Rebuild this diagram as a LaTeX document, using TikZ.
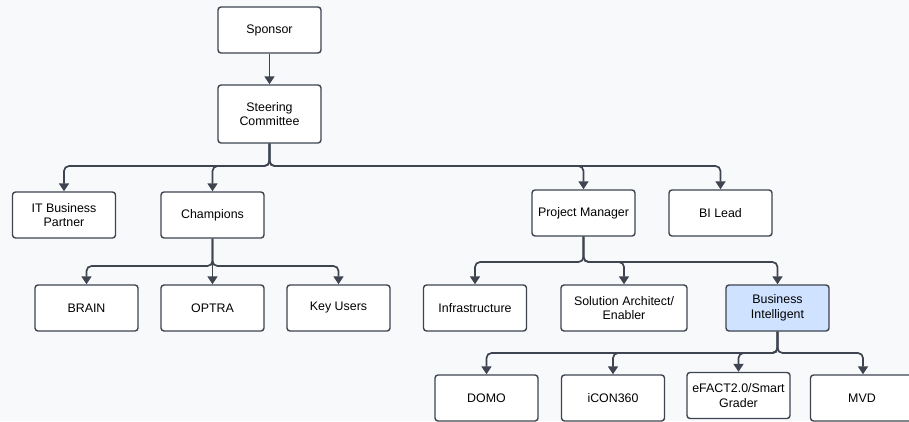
\documentclass[tikz,border=0pt]{standalone}
\usepackage{fontspec}
\setmainfont{Liberation Sans}
\usetikzlibrary{arrows.meta}

\definecolor{linegray}{RGB}{62,68,80}
\definecolor{bifill}{RGB}{207,226,255}
\definecolor{bgcol}{RGB}{248,249,251}

\tikzset{
	role/.style={draw=linegray, line width=1.4pt, rounded corners=3pt, fill=white, minimum width=103pt, minimum height=46pt, align=center, inner sep=2pt, font=\fontsize{12.4}{14.5}\selectfont},
	link/.style={draw=linegray, line width=1.7pt, rounded corners=5pt, -{Triangle[width=10pt,length=8pt]}}
}

\begin{document}
\begin{tikzpicture}[x=1pt, y=-1pt]
		\fill[bgcol] (0,0) rectangle (909,421);
		\useasboundingbox (0,0) rectangle (909,421);
		
		\node[role] (sponsor) at (269.5,30) {Sponsor};
		\node[role, minimum height=58pt] (steering) at (269.5,114) {Steering\\Committee};
		
		\node[role] (itbp) at (64,215) {IT Business\\Partner};
		\node[role] (champ) at (212.5,215) {Champions};
		\node[role] (pm) at (583.5,213) {Project Manager};
		\node[role] (bilead) at (720.5,213) {BI Lead};
		
		\node[role] (brain) at (86.5,308) {BRAIN};
		\node[role] (optra) at (212.5,308) {OPTRA};
		\node[role] (keyusers) at (338.5,308) {Key Users};
		\node[role] (infra) at (475,308) {Infrastructure};
		\node[role, minimum width=126pt] (solarch) at (624,308) {Solution Architect/\\Enabler};
		\node[role, fill=bifill] (bi) at (777.5,308) {Business\\Intelligent};
		
		\node[role] (domo) at (486.5,398) {DOMO};
		\node[role] (icon) at (613,398) {iCON360};
		\node[role] (efact) at (738.5,395.5) {eFACT2.0/Smart\\Grader};
		\node[role] (mvd) at (862,398) {MVD};
		
		\coordinate (jsteer) at (269.5,166);
		\coordinate (jchamp) at (212.5,266);
		\coordinate (jpm) at (583.5,262);
		\coordinate (jbi) at (777.5,353);
		
		\draw[link] (sponsor.south) -- (steering.north);
		
		\draw[link] (steering.south) -- (jsteer) -| (itbp.north);
		\draw[link] (steering.south) -- (jsteer) -| (champ.north);
		\draw[link] (steering.south) -- (jsteer) -| (pm.north);
		\draw[link] (steering.south) -- (jsteer) -| (bilead.north);
		
		\draw[link] (champ.south) -- (jchamp) -| (brain.north);
		\draw[link] (champ.south) -- (optra.north);
		\draw[link] (champ.south) -- (jchamp) -| (keyusers.north);
		
		\draw[link] (pm.south) -- (jpm) -| (infra.north);
		\draw[link] (pm.south) -- (jpm) -| (solarch.north);
		\draw[link] (pm.south) -- (jpm) -| (bi.north);
		
		\draw[link] (bi.south) -- (jbi) -| (domo.north);
		\draw[link] (bi.south) -- (jbi) -| (icon.north);
		\draw[link] (bi.south) -- (jbi) -| (efact.north);
		\draw[link] (bi.south) -- (jbi) -| ([xshift=1pt]mvd.north);
	\end{tikzpicture}
\end{document}
